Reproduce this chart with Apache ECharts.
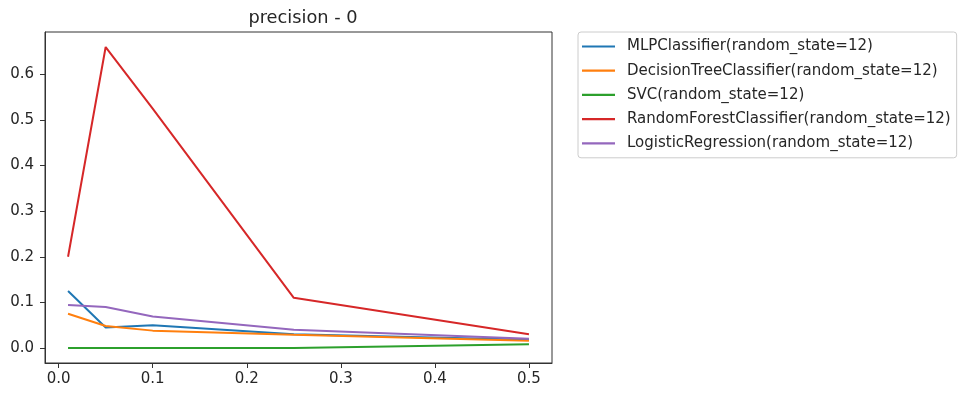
<!DOCTYPE html>
<html>
<head>
<meta charset="utf-8">
<script src="https://cdn.jsdelivr.net/npm/echarts@6/dist/echarts.min.js"></script>
<style>
  html, body { margin: 0; padding: 0; background: #fff; }
  #chart { width: 960px; height: 394px; }
</style>
</head>
<body>
<div id="chart"></div>
<script>
// Sampling ratios on the x axis
const ratios = [0.01, 0.05, 0.1, 0.25, 0.5];

// Precision for class 0, one array per classifier
const mlp = [0.125, 0.045, 0.05, 0.03, 0.018];
const decisionTree = [0.075, 0.048, 0.038, 0.029, 0.016];
const svc = [0.0, 0.0, 0.0, 0.0, 0.008];
const randomForest = [0.2, 0.66, 0.525, 0.11, 0.03];
const logistic = [0.094, 0.09, 0.069, 0.04, 0.02];

const seriesNames = [
  'MLPClassifier(random_state=12)',
  'DecisionTreeClassifier(random_state=12)',
  'SVC(random_state=12)',
  'RandomForestClassifier(random_state=12)',
  'LogisticRegression(random_state=12)'
];
const seriesValues = [mlp, decisionTree, svc, randomForest, logistic];
const colors = ['#1f77b4', '#ff7f0e', '#2ca02c', '#d62728', '#9467bd'];

const xTicks = [0, 0.1, 0.2, 0.3, 0.4, 0.5];
const yTicks = [0, 0.1, 0.2, 0.3, 0.4, 0.5, 0.6];

const font = 'DejaVu Sans';
const textColor = '#262626';
const spineColor = '#333';

const chart = echarts.init(document.getElementById('chart'), null, { renderer: 'canvas' });

chart.setOption({
  animation: false,
  backgroundColor: '#fff',
  color: colors,
  title: {
    text: 'precision - 0',
    left: 298,
    top: 4,
    textAlign: 'center',
    textStyle: { fontFamily: font, fontSize: 17.8, fontWeight: 'normal', color: textColor }
  },
  grid: {
    left: 45, right: 408, top: 32, bottom: 31,
    show: true, borderColor: spineColor, borderWidth: 1, backgroundColor: 'transparent'
  },
  legend: {
    orient: 'vertical',
    left: 578, top: 32,
    padding: [6, 6, 6, 4],
    itemGap: 7.2,
    itemWidth: 33, itemHeight: 2.2,
    icon: 'rect',
    borderColor: '#cccccc', borderWidth: 1, borderRadius: 3,
    backgroundColor: '#fff',
    textStyle: { fontFamily: font, fontSize: 15, color: textColor, lineHeight: 17, padding: [0, 0, 0, 7] },
    data: seriesNames
  },
  xAxis: {
    type: 'value',
    min: -0.0145, max: 0.5245,
    splitLine: { show: false },
    axisLine: { show: true, onZero: false, lineStyle: { color: spineColor, width: 1 } },
    axisTick: { show: true, length: 5, customValues: xTicks, lineStyle: { color: spineColor } },
    axisLabel: {
      customValues: xTicks,
      formatter: v => v.toFixed(1),
      fontFamily: font, fontSize: 15, color: textColor, margin: 9
    }
  },
  yAxis: {
    type: 'value',
    min: -0.033, max: 0.693,
    splitLine: { show: false },
    axisLine: { show: true, onZero: false, lineStyle: { color: spineColor, width: 1 } },
    axisTick: { show: true, length: 5, customValues: yTicks, lineStyle: { color: spineColor } },
    axisLabel: {
      customValues: yTicks,
      formatter: v => v.toFixed(1),
      fontFamily: font, fontSize: 15, color: textColor, margin: 11
    }
  },
  series: seriesNames.map((name, i) => ({
    name: name,
    type: 'line',
    data: ratios.map((x, j) => [x, seriesValues[i][j]]),
    showSymbol: false,
    symbol: 'none',
    lineStyle: { width: 2, color: colors[i] },
    itemStyle: { color: colors[i] },
    clip: true
  }))
});
</script>
</body>
</html>
